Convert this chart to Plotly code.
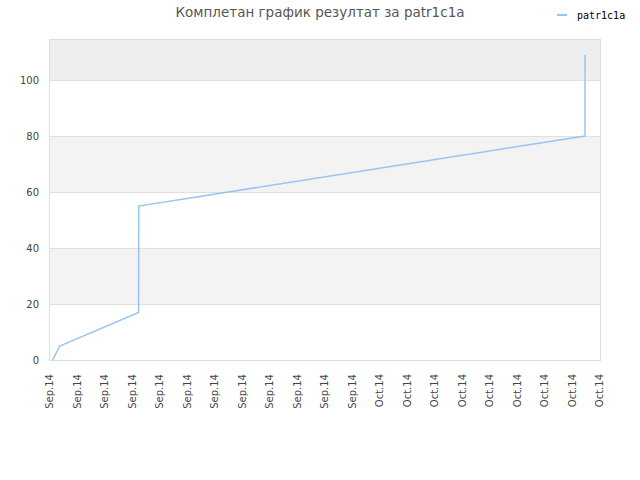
import plotly.graph_objects as go

# series
series_name = "patr1c1a"
dates = [
    "2014-09-13 03:30",
    "2014-09-13 12:40",
    "2014-09-17 20:00",
    "2014-09-17 20:05",
    "2014-09-17 20:10",
    "2014-10-12 04:20",
    "2014-10-12 04:25",
]
values = [0, 5, 17, 33, 55, 80, 109]

title_text = "Комплетан график резултат за patr1c1a"
x_start, x_end = "2014-09-13", "2014-10-13"
y_max = 114.3
band_edges = [0, 20, 40, 60, 80, 100, y_max]
band_colors = ["white", "#f3f3f3", "white", "#f3f3f3", "white", "#eeeeee"]

line_color = "#99c5f2"

fig = go.Figure()
fig.add_trace(
    go.Scatter(
        x=dates,
        y=values,
        mode="lines",
        name=series_name,
        line=dict(color=line_color, width=1.5),
        showlegend=False,
    )
)

# alternating horizontal bands behind the data
for lo, hi, col in zip(band_edges[:-1], band_edges[1:], band_colors):
    fig.add_shape(
        type="rect", xref="paper", yref="y",
        x0=0, x1=1, y0=lo, y1=hi,
        fillcolor=col, line_width=0, layer="below",
    )

# small legend, top right
fig.add_shape(
    type="line", xref="paper", yref="paper",
    x0=(557 - 50) / 550, x1=(567 - 50) / 550,
    y0=(480 - 120 - 15) / 320, y1=(480 - 120 - 15) / 320,
    line=dict(color=line_color, width=2),
)
fig.add_annotation(
    text=series_name, xref="paper", yref="paper",
    x=(575 - 50) / 550, y=(480 - 120 - 15) / 320,
    xanchor="left", yanchor="middle", showarrow=False,
    font=dict(family="DejaVu Sans Mono", size=10, color="#000"),
)

fig.update_layout(
    width=640,
    height=480,
    margin=dict(l=50, r=40, t=40, b=120),
    paper_bgcolor="white",
    plot_bgcolor="white",
    title=dict(
        text=title_text, x=0.5, xanchor="center",
        y=1 - 12 / 480, yanchor="middle",
        font=dict(family="DejaVu Sans", size=13.5, color="#555"),
    ),
    font=dict(family="DejaVu Sans", size=10, color="#444"),
)
fig.update_xaxes(
    type="date",
    range=[x_start, x_end],
    tick0=x_start,
    dtick=1.5 * 86400000,
    tickformat="%b.%y",
    tickangle=-90,
    ticks="outside", ticklen=9, tickcolor="rgba(0,0,0,0)",
    showgrid=False,
    showline=True, linecolor="#dddddd", linewidth=1, mirror=True,
    automargin=False,
)
fig.update_yaxes(
    range=[0, y_max],
    dtick=20,
    ticks="outside", ticklen=8, tickcolor="rgba(0,0,0,0)",
    showgrid=True, gridcolor="#e0e0e0", gridwidth=1,
    zeroline=False,
    showline=True, linecolor="#dddddd", linewidth=1, mirror=True,
    automargin=False,
)

# the page body has a default 8px margin; drop it so the figure fills the window
fig.write_html(
    "out.html",
    config={"displayModeBar": False},
    post_script="document.body.style.margin='0';",
)
